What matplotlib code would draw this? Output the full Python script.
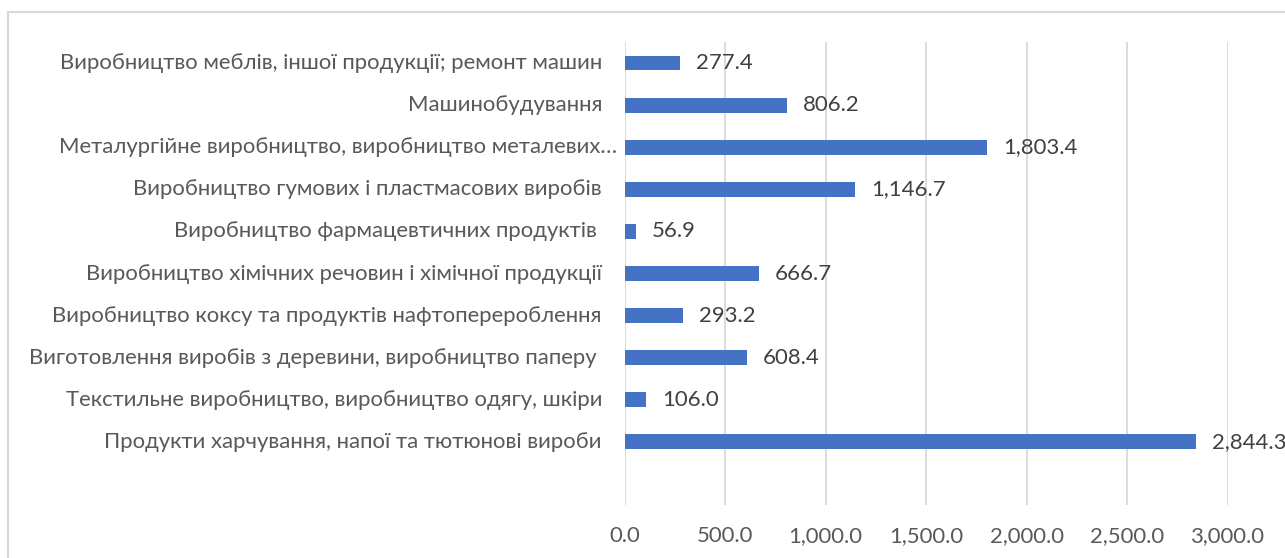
import matplotlib
matplotlib.use("Agg")
import matplotlib.pyplot as plt
from matplotlib.patches import Rectangle
from matplotlib.ticker import FuncFormatter
import matplotlib.transforms as mtrans

# Categories listed bottom to top
categories = [
    "Продукти харчування, напої та тютюнові вироби",
    "Текстильне виробництво, виробництво одягу, шкіри",
    "Виготовлення виробів з деревини, виробництво паперу ",
    "Виробництво коксу та продуктів нафтоперероблення",
    "Виробництво хімічних речовин і хімічної продукції",
    "Виробництво фармацевтичних продуктів ",
    "Виробництво гумових і пластмасових виробів",
    "Металургійне виробництво, виробництво металевих…",
    "Машинобудування",
    "Виробництво меблів, іншої продукції; ремонт машин",
]
values = [2844.3, 106.0, 608.4, 293.2, 666.7, 56.9, 1146.7, 1803.4, 806.2, 277.4]
xticks = [0, 500, 1000, 1500, 2000, 2500, 3000]

W, H = 1285, 558
fig = plt.figure(figsize=(W / 100, H / 100), dpi=100)
plt.rcParams['font.family'] = ['Lato', 'DejaVu Sans']

# chart border (light gray frame, cut off at right/bottom)
fig.patches.append(Rectangle((7.5 / W, -0.1), 1.2, (H - 11.7) / H + 0.1,
                             transform=fig.transFigure, fill=False,
                             edgecolor='#d9d9d9', linewidth=1.5))

x0, x1 = 624.5, 1227.7
ytop, ybot = 42, 505
ax = fig.add_axes([x0 / W, (H - ybot) / H, (x1 - x0) / W, (ybot - ytop) / H])

fs = 15.9
pos = list(range(1, len(categories) + 1))
ax.barh(pos, values, height=0.35, color='#4472C4', zorder=3)
ax.set_xlim(0, 3000)
ax.set_ylim(-0.5, 10.5)
ax.set_xticks(xticks)
ax.xaxis.set_major_formatter(FuncFormatter(lambda v, p: f"{v:,.1f}"))
ax.tick_params(axis='x', length=0, pad=15, labelsize=fs, labelcolor='#595959')
ax.set_yticks([])
for s in ax.spines.values():
    s.set_visible(False)
ax.grid(axis='x', color='#d9d9d9', linewidth=1.3, zorder=0)

for p, v in zip(pos, values):
    ax.annotate(f"{v:,.1f}", (v, p), xytext=(11.5, 0), textcoords='offset points',
                ha='left', va='center', fontsize=fs, color='#404040')

for p, c in zip(pos, categories):
    dx = -22.5 if not c.endswith("…") else -7
    tr = ax.get_yaxis_transform() + mtrans.ScaledTranslation(dx / 100, 0, fig.dpi_scale_trans)
    ax.text(0, p, c, transform=tr, ha='right', va='center', fontsize=fs, color='#595959')

fig.savefig("out.png", dpi=100)
